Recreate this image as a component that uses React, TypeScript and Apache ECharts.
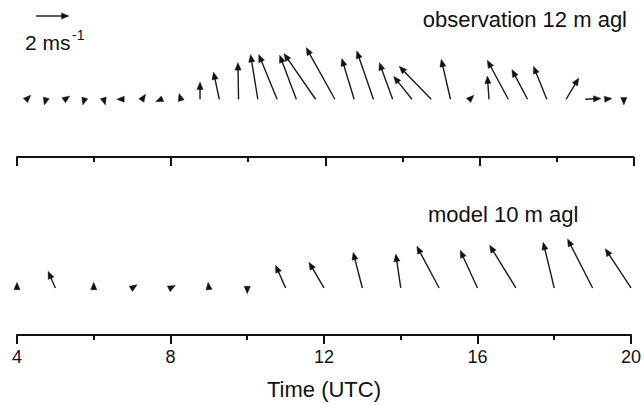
import React, { useEffect, useRef } from "react";
import * as echarts from "echarts";

// ---- data (u = eastward, v = northward, m/s) ----
const OBS_TIME = [4.25, 4.75, 5.25, 5.75, 6.25, 6.75, 7.25, 7.75, 8.25, 8.75, 9.25, 9.75, 10.25, 10.75, 11.25, 11.75, 12.25, 12.75, 13.25, 13.75, 14.25, 14.75, 15.25, 15.75, 16.25, 16.75, 17.25, 17.75, 18.25, 18.75, 19.25, 19.75];
const OBS_U = [0.25, -0.1, 0.28, -0.1, 0.1, -0.38, 0.2, -0.35, -0.1, 0.0, -0.35, -0.04, -0.44, -1.11, -1.01, -1.92, -1.74, -0.75, -1.01, -0.81, -1.11, -1.94, -0.56, 0.25, -0.1, -1.27, -0.95, -0.81, 0.77, 0.95, 0.45, 0.0];
const OBS_V = [0.25, -0.35, 0.2, -0.35, -0.35, 0.0, 0.3, -0.15, 0.35, 1.05, 1.65, 2.22, 2.71, 2.71, 2.67, 2.77, 3.13, 2.47, 2.93, 2.22, 1.39, 2.0, 2.42, 0.25, 1.41, 2.36, 1.8, 2.0, 1.29, 0.05, 0.05, -0.35];

const MODEL_TIME = [4, 5, 6, 7, 8, 9, 10, 11, 12, 13, 14, 15, 16, 17, 18, 19, 20];
const MODEL_U = [0.0, -0.44, 0.0, 0.3, 0.3, -0.05, 0.0, -0.61, -0.91, -0.56, -0.3, -1.35, -1.05, -1.59, -0.67, -1.52, -1.56];
const MODEL_V = [0.35, 1.01, 0.35, 0.2, 0.15, 0.35, -0.35, 1.38, 1.56, 2.16, 2.06, 2.53, 2.28, 2.59, 2.77, 2.97, 2.38];

const X_MIN = 4;
const X_MAX = 20;
const X_INTERVAL = 4;
const KEY_SPEED = 2; // m/s
const TITLE_OBS = "observation 12 m agl";
const TITLE_MODEL = "model 10 m agl";
const X_NAME = "Time (UTC)";

// ---- layout ----
const PX_PER_MS = 16.5;
const FONT = "'Liberation Sans', Arial, Helvetica, sans-serif";
const AX1 = 157;
const Y1_MIN = -3.5;
const Y1_MAX = 5.5;
const AX2 = 335;
const Y2_MIN = -2.85;
const Y2_MAX = 4.15;
const GRID_LEFT = 17;
const GRID_RIGHT = 10.5;
const HEAD_LEN = 7.5;
const HEAD_HW = 3.1;
const INK = "#111";

function arrowChildren(x0: number, y0: number, dx: number, dy: number) {
  const len = Math.hypot(dx, dy) || 1;
  const ux = dx / len;
  const uy = dy / len;
  const tip = [x0 + dx, y0 + dy];
  const back = [tip[0] - ux * HEAD_LEN, tip[1] - uy * HEAD_LEN];
  const px = -uy;
  const py = ux;
  const children: any[] = [];
  if (len > HEAD_LEN) {
    children.push({
      type: "line",
      shape: { x1: x0, y1: y0, x2: back[0] + ux, y2: back[1] + uy },
      style: { stroke: "#1a1a1a", lineWidth: 1.4 },
    });
  }
  children.push({
    type: "polygon",
    shape: {
      points: [
        tip,
        [back[0] + px * HEAD_HW, back[1] + py * HEAD_HW],
        [back[0] - px * HEAD_HW, back[1] - py * HEAD_HW],
      ],
    },
    style: { fill: INK, stroke: INK, lineWidth: 0.4 },
  });
  return children;
}

function renderArrow(params: any, api: any) {
  const t = api.value(0);
  const u = api.value(1);
  const v = api.value(2);
  const base = api.coord([t, 0]);
  const s = api.size([0, 1])[1];
  return {
    type: "group",
    children: arrowChildren(base[0], base[1], u * s, -v * s),
  };
}

function xAxisCfg(gridIndex: number, showLabels: boolean) {
  return {
    type: "value",
    gridIndex,
    min: X_MIN,
    max: X_MAX,
    interval: X_INTERVAL,
    position: "bottom",
    name: showLabels ? X_NAME : "",
    nameLocation: "middle",
    nameGap: 43,
    nameTextStyle: { fontSize: 22, color: INK, fontFamily: FONT },
    axisLine: { show: true, onZero: false, lineStyle: { color: INK, width: 2 } },
    axisTick: { show: true, length: 9, lineStyle: { color: INK, width: 2 } },
    minorTick: { show: true, splitNumber: 2, length: 5, lineStyle: { color: INK, width: 2 } },
    splitLine: { show: false },
    minorSplitLine: { show: false },
    axisLabel: {
      show: showLabels,
      margin: 13,
      fontSize: 18,
      color: INK,
      fontFamily: FONT,
    },
  };
}

export default function App() {
  const ref = useRef<HTMLDivElement>(null);

  useEffect(() => {
    document.body.style.margin = "0";
    if (!ref.current) return;
    const chart = echarts.init(ref.current, null, { renderer: "svg" });

    const h1 = (Y1_MAX - Y1_MIN) * PX_PER_MS;
    const h2 = (Y2_MAX - Y2_MIN) * PX_PER_MS;
    const keyLen = KEY_SPEED * PX_PER_MS;

    chart.setOption({
      animation: false,
      backgroundColor: "#fff",
      grid: [
        { left: GRID_LEFT, right: GRID_RIGHT, top: AX1 - h1, height: h1 },
        { left: GRID_LEFT, right: GRID_RIGHT, top: AX2 - h2, height: h2 },
      ],
      xAxis: [xAxisCfg(0, false), xAxisCfg(1, true)],
      yAxis: [
        { type: "value", gridIndex: 0, min: Y1_MIN, max: Y1_MAX, show: false },
        { type: "value", gridIndex: 1, min: Y2_MIN, max: Y2_MAX, show: false },
      ],
      series: [
        {
          type: "custom",
          xAxisIndex: 0,
          yAxisIndex: 0,
          clip: false,
          renderItem: renderArrow,
          dimensions: ["t", "u", "v"],
          encode: { x: 0, y: 2 },
          data: OBS_TIME.map((t, i) => [t, OBS_U[i], OBS_V[i]]),
        },
        {
          type: "custom",
          xAxisIndex: 1,
          yAxisIndex: 1,
          clip: false,
          renderItem: renderArrow,
          dimensions: ["t", "u", "v"],
          encode: { x: 0, y: 2 },
          data: MODEL_TIME.map((t, i) => [t, MODEL_U[i], MODEL_V[i]]),
        },
      ],
      graphic: [
        {
          type: "group",
          children: arrowChildren(36, 16, keyLen, 0),
        },
        {
          type: "text",
          left: 25,
          top: 32,
          style: { text: "2 ms", font: `21px ${FONT}`, fill: INK },
        },
        {
          type: "text",
          left: 72,
          top: 28,
          style: { text: "-1", font: `14px ${FONT}`, fill: INK },
        },
        {
          type: "text",
          right: 17,
          top: 8,
          style: { text: TITLE_OBS, font: `22px ${FONT}`, fill: INK },
        },
        {
          type: "text",
          left: 428,
          top: 203.5,
          style: { text: TITLE_MODEL, font: `22px ${FONT}`, fill: INK },
        },
      ],
    });

    return () => chart.dispose();
  }, []);

  return <div ref={ref} style={{ width: 644, height: 405 }} />;
}
